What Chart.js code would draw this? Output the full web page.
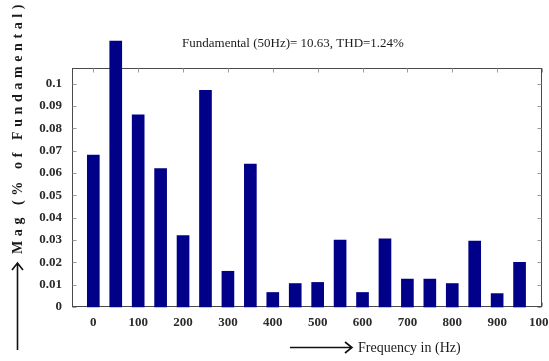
<!DOCTYPE html>
<html>
<head>
<meta charset="utf-8">
<script src="https://cdn.jsdelivr.net/npm/chart.js@4/dist/chart.umd.min.js"></script>
<style>
  html, body { margin: 0; padding: 0; background: #fff; }
  #wrap { width: 549px; height: 361px; }
</style>
</head>
<body>
<div id="wrap"><canvas id="c" width="549" height="361"></canvas></div>
<script>
// Harmonic spectrum: frequency (Hz) and magnitude (% of fundamental)
const frequencies = [0, 50, 100, 150, 200, 250, 300, 350, 400, 450,
                     500, 550, 600, 650, 700, 750, 800, 850, 900, 950];
const magnitudes = [0.068, 0.119, 0.086, 0.062, 0.032, 0.097, 0.016, 0.064, 0.0065, 0.0105,
                    0.011, 0.030, 0.0065, 0.0305, 0.0125, 0.0125, 0.0105, 0.0295, 0.006, 0.020];
const xTickValues = [0, 100, 200, 300, 400, 500, 600, 700, 800, 900, 1000];
const yTickValues = [0, 0.01, 0.02, 0.03, 0.04, 0.05, 0.06, 0.07, 0.08, 0.09, 0.1];
const yTickLabels = ['0', '0.01', '0.02', '0.03', '0.04', '0.05', '0.06', '0.07', '0.08', '0.09', '0.1'];
const titleText = 'Fundamental (50Hz)= 10.63, THD=1.24%';
const xTitle = 'Frequency in (Hz)';
const yTitle = 'Mag (% of Fundamental)';

const serif = '"Liberation Serif", "DejaVu Serif", serif';

// Box around the plot with inward tick marks on every side
const framePlugin = {
  id: 'frame',
  beforeDatasetsDraw(chart) {
    const { ctx, chartArea: a, scales: { x, y } } = chart;
    ctx.save();
    ctx.strokeStyle = '#4a4a4a';
    ctx.lineWidth = 1;
    const L = Math.round(a.left) + 0.5, R = Math.round(a.right) - 0.5;
    const T = Math.round(a.top) + 0.5, B = Math.round(a.bottom) - 0.5;
    ctx.strokeRect(L, T, R - L, B - T);
    ctx.strokeStyle = '#999';
    ctx.beginPath();
    const tl = 4;
    xTickValues.forEach(v => {
      const px = Math.round(x.getPixelForValue(v)) + 0.5;
      ctx.moveTo(px, B); ctx.lineTo(px, B - tl);
      ctx.moveTo(px, T); ctx.lineTo(px, T + tl);
    });
    yTickValues.forEach(v => {
      const py = Math.round(y.getPixelForValue(v)) + 0.5;
      ctx.moveTo(L, py); ctx.lineTo(L + tl, py);
      ctx.moveTo(R, py); ctx.lineTo(R - tl, py);
    });
    ctx.stroke();
    ctx.restore();
  },
  afterDraw(chart) {
    const { ctx } = chart;
    ctx.save();
    ctx.fillStyle = '#1a1a1a';
    ctx.strokeStyle = '#111';

    // Title
    ctx.font = '13px ' + serif;
    ctx.textAlign = 'center';
    ctx.textBaseline = 'middle';
    ctx.fillText(titleText, 293, 44);

    // X axis title with arrow
    ctx.textAlign = 'left';
    ctx.font = '14px ' + serif;
    ctx.fillText(xTitle, 358, 348);
    ctx.lineWidth = 1.6;
    ctx.beginPath();
    ctx.moveTo(290, 347.5); ctx.lineTo(352, 347.5);
    ctx.moveTo(345, 342); ctx.lineTo(352, 347.5); ctx.lineTo(345, 353);
    ctx.stroke();

    // Y axis title with arrow
    ctx.save();
    ctx.translate(18, 127);
    ctx.rotate(-Math.PI / 2);
    ctx.textAlign = 'center';
    ctx.font = 'bold 14px ' + serif;
    if ('letterSpacing' in ctx) ctx.letterSpacing = '4.6px';
    ctx.fillText(yTitle, 0, 0);
    ctx.restore();
    ctx.beginPath();
    ctx.moveTo(17.5, 350); ctx.lineTo(17.5, 263);
    ctx.moveTo(12, 270); ctx.lineTo(17.5, 263); ctx.lineTo(23, 270);
    ctx.stroke();
    ctx.restore();
  }
};

const noPad = (scale) => {
  scale.paddingLeft = 0; scale.paddingRight = 0;
  scale.paddingTop = 0; scale.paddingBottom = 0;
};

new Chart(document.getElementById('c'), {
  type: 'bar',
  data: {
    datasets: [{
      data: frequencies.map((f, i) => ({ x: f, y: magnitudes[i] })),
      backgroundColor: '#000088',
      borderWidth: 0,
      barThickness: 12,
      clip: false
    }]
  },
  options: {
    responsive: false,
    animation: false,
    events: [],
    layout: { padding: { left: 0, right: 7, top: 68, bottom: 0 } },
    plugins: { legend: { display: false }, tooltip: { enabled: false }, title: { display: false } },
    scales: {
      x: {
        type: 'linear',
        min: -47.5,
        max: 1000,
        offset: false,
        grid: { display: false, drawTicks: false },
        border: { display: false },
        afterBuildTicks(scale) { scale.ticks = xTickValues.map(v => ({ value: v })); },
        afterFit(scale) { scale.height = 54; noPad(scale); },
        ticks: {
          autoSkip: false,
          maxRotation: 0,
          padding: 8,
          color: '#2a2a2a',
          font: { family: serif, size: 13, weight: 'bold' },
          callback: (v) => String(v)
        }
      },
      y: {
        min: 0,
        max: 0.107,
        grid: { display: false, drawTicks: false },
        border: { display: false },
        afterBuildTicks(scale) { scale.ticks = yTickValues.map(v => ({ value: v })); },
        afterFit(scale) { scale.width = 72; noPad(scale); },
        ticks: {
          autoSkip: false,
          padding: 10,
          color: '#2a2a2a',
          font: { family: serif, size: 13, weight: 'bold' },
          callback: (v, i) => yTickLabels[i]
        }
      }
    }
  },
  plugins: [framePlugin]
});
</script>
</body>
</html>
